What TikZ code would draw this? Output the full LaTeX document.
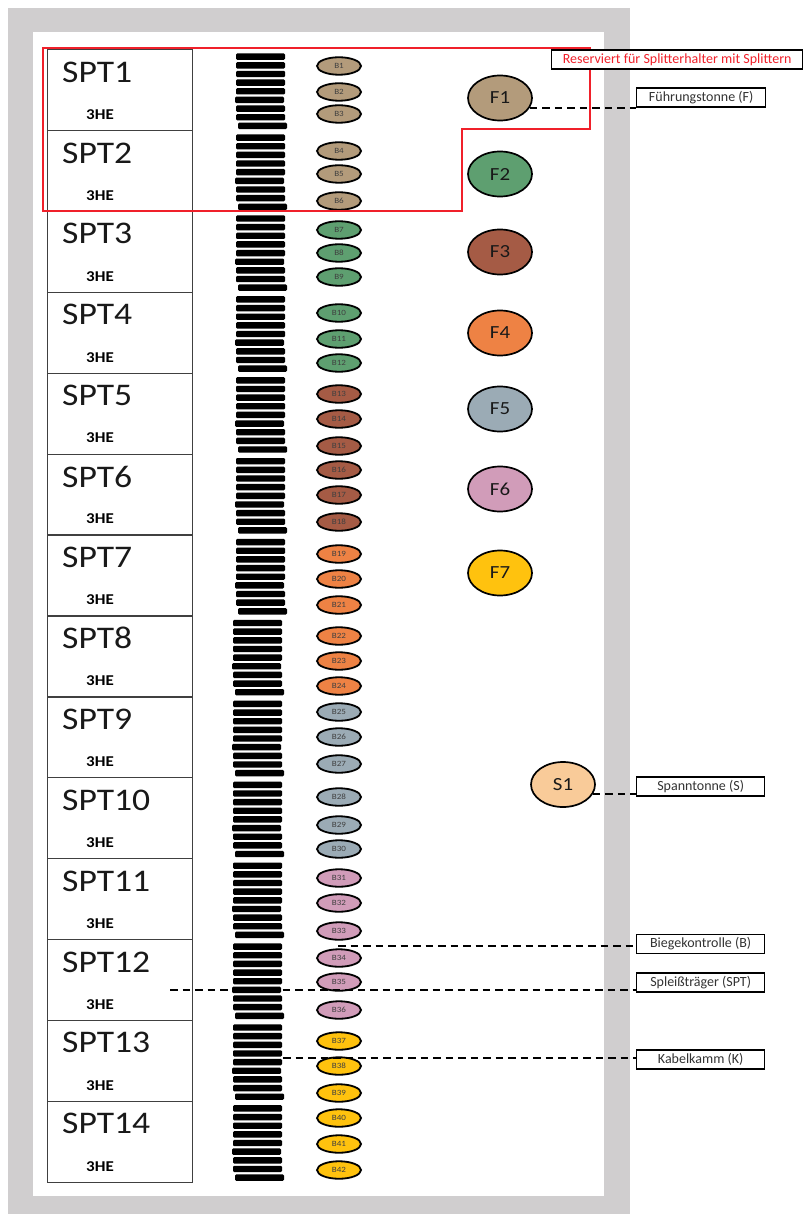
\documentclass[tikz,border=0pt]{standalone}
\usepackage{fontspec}
\setmainfont{Carlito}
\newfontfamily\widefont[FakeStretch=1.13]{Carlito}
\usetikzlibrary{shapes.geometric,calc}
\definecolor{bggray}{HTML}{D0CECF}
\definecolor{cellline}{HTML}{404040}
\definecolor{bc1}{HTML}{B39B7B}
\definecolor{bc2}{HTML}{5E9F70}
\definecolor{bc3}{HTML}{A55B45}
\definecolor{bc4}{HTML}{EE8244}
\definecolor{bc5}{HTML}{9BABB5}
\definecolor{bc6}{HTML}{D19CB9}
\definecolor{bc7}{HTML}{FFC20E}
\definecolor{scol}{HTML}{F9CB99}
\definecolor{resred}{HTML}{F0202A}
\begin{document}
\begin{tikzpicture}[x=1pt,y=-1pt,
  cell/.style={draw=cellline,line width=1.3pt,minimum width=145pt,minimum height=80.9pt,anchor=north west,inner sep=0pt},
  spttext/.style={anchor=west,inner sep=0pt,font=\widefont\fontsize{31.5}{31.5}\selectfont,text=black!90},
  hetext/.style={inner sep=0pt,font=\widefont\bfseries\fontsize{15}{15}\selectfont},
  bell/.style={ellipse,draw=black,line width=1.8pt,minimum width=44pt,minimum height=17.5pt,inner sep=0pt,font=\widefont\fontsize{8}{8}\selectfont,text=black!75},
  fell/.style={ellipse,draw=black,line width=1.7pt,minimum width=64pt,minimum height=45pt,inner sep=0pt,font=\widefont\fontsize{18.5}{18.5}\selectfont,text=black!90},
  lbl/.style={draw=black,fill=white,line width=1.3pt,minimum width=128pt,minimum height=19pt,inner sep=0pt,anchor=west,font=\fontsize{14}{14}\selectfont,text=black!80},
  conn/.style={dash pattern=on 7.5pt off 5pt,line width=2pt},
  bar/.style={fill=black,rounded corners=1.2pt}
]
\useasboundingbox (0,0) rectangle (804,1214);
% background panels
\fill[bggray] (8,8) rectangle (630,1214);
\fill[white] (33,32) rectangle (604,1196);

% splice carrier cells with cable combs
\foreach \i in {1,...,14}{
  \pgfmathsetmacro\rtop{49+80.9*(\i-1)}
  \pgfmathsetmacro\bx{\i<8 ? 236 : 233}
  \node[cell] (spt\i) at (46.5,\rtop) {};
  \node[spttext] (sptlabel\i) at (62,\rtop+23) {SPT\i};
  \node[hetext] (he\i) at (100,\rtop+65.5) {3HE};
  \foreach \j in {0,...,8}{
    \pgfmathsetmacro\dx{{0,0,0,0,0,-1,0,0,2}[\j]}
    \fill[bar] (\bx+\dx,\rtop+4.5+8.65*\j) rectangle ++(49,6.4);
  }
}

% bend controls
\foreach \n/\y in {1/66,2/92,3/114,4/151,5/174,6/201,7/230,8/253,9/277,10/313,11/339,12/363,13/394,14/419,15/446,16/470,17/495,18/522,19/554,20/579,21/605,22/636,23/661,24/686,25/712,26/737,27/764,28/797,29/825,30/849,31/878,32/903,33/931,34/958,35/982,36/1010,37/1041,38/1066,39/1093,40/1118,41/1144,42/1170}{
  \pgfmathtruncatemacro\c{(\n-1)/6+1}
  \node[bell,fill=bc\c] (B\n) at (339,\y) {B\n};
}

% guide drums
\foreach \n/\y in {1/98,2/174,3/252,4/333,5/409,6/489,7/573}{
  \node[fell,fill=bc\n] (F\n) at (500,\y) {F\n};
}
\node[fell,fill=scol] (S1) at (563,784.5) {S1};

% reserved area
\draw[resred,line width=1.8pt] (43,48) -- (590,48) -- (590,129) -- (462,129) -- (462,211) -- (43,211) -- cycle;

% legend labels
\node[lbl,minimum width=251pt,text=resred] (res) at (551,59.5) {Reserviert für Splitterhalter mit Splittern};
\node[lbl,minimum width=129pt] (fuehr) at (636,97.5) {Führungstonne (F)};
\node[lbl] (spann) at (636,786.5) {Spanntonne (S)};
\node[lbl] (biege) at (636,944) {Biegekontrolle (B)};
\node[lbl] (spleiss) at (636,982.5) {Spleißträger (SPT)};
\node[lbl] (kabel) at (636,1059.5) {Kabelkamm (K)};

% connectors
\coordinate (cB) at (338,946);
\coordinate (cSPT) at (170,990);
\coordinate (cK) at (283,1058);
\draw[conn] (F1.-18) -- (F1.-18 -| fuehr.west);
\draw[conn] (S1.-18) -- (S1.-18 -| spann.west);
\draw[conn] (cB) -- (cB -| biege.west);
\draw[conn] (cSPT) -- (cSPT -| spleiss.west);
\draw[conn] (cK) -- (cK -| kabel.west);
\end{tikzpicture}
\end{document}
